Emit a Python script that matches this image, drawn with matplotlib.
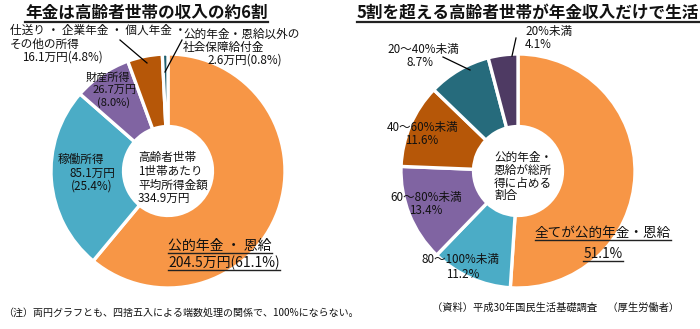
# coding = utf-8

import matplotlib
matplotlib.use("Agg")
import matplotlib.pyplot as plt

plt.rcParams['font.family'] = ['Noto Sans CJK JP', 'DejaVu Sans']

# 左の円グラフ: 高齢者世帯の所得の内訳 (万円, %)
inc_names   = ["公的年金・恩給", "稼働所得", "財産所得",
               "仕送り・企業年金・個人年金・その他の所得",
               "公的年金・恩給以外の社会保障給付金"]
inc_amounts = [204.5, 85.1, 26.7, 16.1, 2.6]
inc_shares  = [61.1, 25.4, 8.0, 4.8, 0.8]
inc_total   = 334.9
inc_colors  = ["#F79646", "#4BACC6", "#8064A2", "#B65708", "#1F5F6F"]

# 右の円グラフ: 公的年金・恩給が総所得に占める割合 (%)
ratio_names  = ["全てが公的年金・恩給", "80～100%未満", "60～80%未満",
                "40～60%未満", "20～40%未満", "20%未満"]
ratio_shares = [51.1, 11.2, 13.4, 11.6, 8.7, 4.1]
ratio_colors = ["#F79646", "#4BACC6", "#8064A2", "#B65708", "#266B7C", "#4E3A63"]

W, H = 700, 329
R = 117      # 外径 (px)
HOLE = 0.38  # 内径 / 外径
FS = 8.4     # ラベルの文字サイズ

fig = plt.figure(figsize=(W / 100, H / 100), dpi=100)

def donut(cx, cy, vals, cols):
    ax = fig.add_axes([(cx - R - 2) / W, 1 - (cy + R + 2) / H,
                       (2 * R + 4) / W, (2 * R + 4) / H])
    ax.pie(vals, colors=cols, startangle=90, counterclock=False,
           wedgeprops=dict(width=1 - HOLE, edgecolor="white", linewidth=2.4))
    lim = (R + 2) / R
    ax.set_xlim(-lim, lim)
    ax.set_ylim(-lim, lim)
    ax.set_aspect("auto")
    ax.axis("off")

donut(168, 171, inc_amounts, inc_colors)
donut(518, 171, ratio_shares, ratio_colors)

# 文字と引き出し線はピクセル座標の重ね合わせ軸に描く
ov = fig.add_axes([0, 0, 1, 1])
ov.set_xlim(0, W)
ov.set_ylim(H, 0)
ov.axis("off")

def t(x, y, s, size=FS, ha="left", **kw):
    return ov.text(x, y, s, fontsize=size, ha=ha, va="center", color="#111111", **kw)

under = []

# タイトル
under.append(t(25, 13, "年金は高齢者世帯の収入の約6割", size=12, weight="bold"))
under.append(t(357, 13, "5割を超える高齢者世帯が年金収入だけで生活", size=12, weight="bold"))

# 左のラベル
t(10, 30, "仕送り ・ 企業年金 ・ 個人年金 ・")
t(10, 44, "その他の所得")
t(22, 57, f"{inc_amounts[3]}万円({inc_shares[3]}%)")
ov.plot([120, 147], [40, 63], color="black", lw=0.9)

t(183, 34, "公的年金・恩給以外の")
t(183, 47, "社会保障給付金")
t(207, 60, f"{inc_amounts[4]}万円({inc_shares[4]}%)")
ov.plot([182, 165], [40, 72], color="black", lw=0.9)

t(108, 77, inc_names[2], ha="center", size=8)
t(115, 90, f"{inc_amounts[2]}万円", ha="center", size=8)
t(113, 103, f"({inc_shares[2]}%)", ha="center", size=8)

t(81, 159, inc_names[1], ha="center")
t(92, 173, f"{inc_amounts[1]}万円", ha="center")
t(92, 186, f"({inc_shares[1]}%)", ha="center")

t(138, 158, "高齢者世帯")
t(138, 172, "1世帯あたり")
t(138, 185, "平均所得金額")
t(138, 198, f"{inc_total}万円")

under.append(t(168, 246, "公的年金 ・ 恩給", size=10))
under.append(t(168, 263, f"{inc_amounts[0]}万円({inc_shares[0]}%)", size=10))

# 右のラベル
t(525, 32, ratio_names[5])
t(525, 44, f"{ratio_shares[5]}%")
ov.plot([516, 512], [38, 56], color="black", lw=0.9)

t(423, 49, ratio_names[4], ha="center")
t(420, 62, f"{ratio_shares[4]}%", ha="center")
ov.plot([443, 470], [57, 70], color="black", lw=0.9)

t(423, 128, ratio_names[3], ha="center")
t(422, 140, f"{ratio_shares[3]}%", ha="center")

t(426, 198, ratio_names[2], ha="center")
t(426, 211, f"{ratio_shares[2]}%", ha="center")

t(461, 260, ratio_names[1], ha="center")
t(463, 274, f"{ratio_shares[1]}%", ha="center")

t(494, 157, "公的年金・")
t(494, 170, "恩給が総所")
t(494, 183, "得に占める")
t(494, 196, "割合")

under.append(t(603, 233, ratio_names[0], size=9.8, ha="center"))
under.append(t(603, 254, f"{ratio_shares[0]}%", size=9.8, ha="center"))

# 注記と出所
t(3, 313, "（注）両円グラフとも、四捨五入による端数処理の関係で、100%にならない。", size=7.2)
t(432, 308, "（資料）平成30年国民生活基礎調査　（厚生労働者）", size=7.4)

# 下線を付ける
fig.canvas.draw()
rend = fig.canvas.get_renderer()
inv = ov.transData.inverted()
for tx in under:
    bb = tx.get_window_extent(rend)
    (x0, y0), (x1, _) = inv.transform([(bb.x0, bb.y0), (bb.x1, bb.y1)])
    lw = 1.6 if tx.get_fontsize() >= 12 else 1.0
    ov.plot([x0, x1], [y0 - 0.5, y0 - 0.5], color="#222222", lw=lw)

fig.savefig("out.png", dpi=100)
plt.close(fig)
